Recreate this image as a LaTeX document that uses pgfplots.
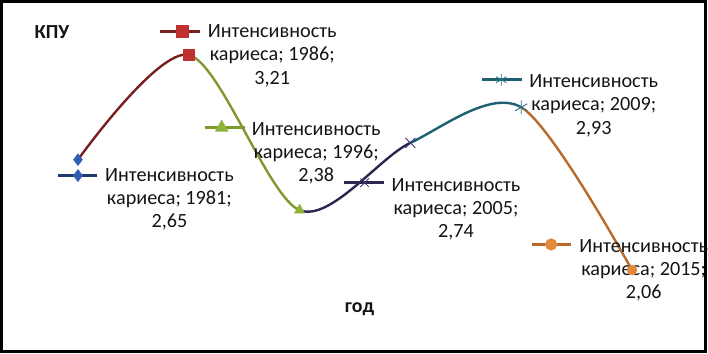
\documentclass[border=0pt]{standalone}
\usepackage{fontspec}
\setmainfont{Carlito}
\usepackage{pgfplots}
\pgfplotsset{compat=1.18}
\usepackage{pgfplotstable}

\definecolor{l81}{HTML}{1F3A6E}\definecolor{m81}{HTML}{2F5FB3}
\definecolor{l86}{HTML}{7A1F1F}\definecolor{m86}{HTML}{C0302E}
\definecolor{l96}{HTML}{7E9A2E}\definecolor{m96}{HTML}{8DB33A}
\definecolor{l05}{HTML}{2A2750}\definecolor{m05}{HTML}{3C3470}
\definecolor{l09}{HTML}{1E5F73}\definecolor{m09}{HTML}{2A7085}
\definecolor{l15}{HTML}{B86A2A}\definecolor{m15}{HTML}{E08A3A}
\definecolor{txt}{HTML}{141414}

\tikzset{lbl/.style={anchor=north west, align=center, inner sep=0pt, text=txt,
    font=\fontsize{20.3}{23.3}\selectfont}}

\pgfplotstableread{
x y
0 2.65
1 3.21
2 2.38
3 2.74
4 2.93
5 2.06
}\data

\begin{document}
\begin{tikzpicture}
\begin{axis}[
  scale only axis,
  x=111bp, y=187.5bp,
  xmin=-0.69, xmax=5.66, ymin=1.625, ymax=3.495,
  axis line style={line width=3bp, black},
  xtick=\empty, ytick=\empty,
  clip=false,
]
% curve segments, coloured by the series at their end
\begin{scope}
\clip (axis cs:0,1.7) rectangle (axis cs:1,3.45);
\addplot[l86, line width=2.4bp, smooth, tension=0.5, no markers] table[x=x,y=y] {\data};
\end{scope}
\begin{scope}
\clip (axis cs:1,1.7) rectangle (axis cs:2,3.45);
\addplot[l96, line width=2.4bp, smooth, tension=0.5, no markers] table[x=x,y=y] {\data};
\end{scope}
\begin{scope}
\clip (axis cs:2,1.7) rectangle (axis cs:3,3.45);
\addplot[l05, line width=2.4bp, smooth, tension=0.5, no markers] table[x=x,y=y] {\data};
\end{scope}
\begin{scope}
\clip (axis cs:3,1.7) rectangle (axis cs:4,3.45);
\addplot[l09, line width=2.4bp, smooth, tension=0.5, no markers] table[x=x,y=y] {\data};
\end{scope}
\begin{scope}
\clip (axis cs:4,1.7) rectangle (axis cs:5,3.45);
\addplot[l15, line width=2.4bp, smooth, tension=0.5, no markers] table[x=x,y=y] {\data};
\end{scope}

% data markers
\addplot[only marks, mark=diamond*, mark size=6bp, m81, mark options={draw=m81,fill=m81}] coordinates {(0,2.65)};
\addplot[only marks, mark=square*, mark size=5.5bp, m86, mark options={draw=m86,fill=m86}] coordinates {(1,3.21)};
\addplot[only marks, mark=triangle*, mark size=6bp, m96, mark options={draw=m96,fill=m96}] coordinates {(2,2.38)};
\addplot[only marks, mark=x, mark size=7bp, m05, mark options={line width=0.9bp}] coordinates {(3,2.74)};
\addplot[only marks, mark=asterisk, mark size=7bp, m09, mark options={line width=0.9bp}] coordinates {(4,2.93)};
\addplot[only marks, mark=*, mark size=5bp, m15, mark options={draw=m15,fill=m15}] coordinates {(5,2.06)};

% legend keys of the data labels
\addplot[l81, line width=3bp, mark=diamond*, mark size=4bp, mark indices={2}, mark options={draw=m81,fill=m81}] coordinates {(-0.18,2.565) (0,2.565) (0.171,2.565)};
\addplot[l86, line width=3bp, mark=square*, mark size=5bp, mark indices={2}, mark options={draw=m86,fill=m86}] coordinates {(0.739,3.333) (0.946,3.333) (1.099,3.333)};
\addplot[l96, line width=3bp, mark=triangle*, mark size=5bp, mark indices={2}, mark options={draw=m96,fill=m96}] coordinates {(1.144,2.821) (1.297,2.821) (1.505,2.821)};
\addplot[l05, line width=3bp, mark=x, mark size=6bp, mark indices={2}, mark options={m05,line width=0.8bp}] coordinates {(2.405,2.527) (2.586,2.527) (2.766,2.527)};
\addplot[l09, line width=3bp, mark=asterisk, mark size=6bp, mark indices={2}, mark options={m09,line width=0.8bp}] coordinates {(3.649,3.077) (3.820,3.077) (4.009,3.077)};
\addplot[l15, line width=3bp, mark=*, mark size=4.5bp, mark indices={2}, mark options={draw=m15,fill=m15}] coordinates {(4.099,2.197) (4.270,2.197) (4.450,2.197)};

% data labels
\node[lbl] at (axis cs:0.243,2.621) {\strut Интенсивность\\кариеса; 1981;\\2,65};
\node[lbl] at (axis cs:1.171,3.389) {\strut Интенсивность\\кариеса; 1986;\\3,21};
\node[lbl] at (axis cs:1.568,2.869) {\strut Интенсивность\\кариеса; 1996;\\2,38};
\node[lbl] at (axis cs:2.829,2.567) {\strut Интенсивность\\кариеса; 2005;\\2,74};
\node[lbl] at (axis cs:4.072,3.122) {\strut Интенсивность\\кариеса; 2009;\\2,93};
\node[lbl] at (axis cs:4.523,2.242) {\strut Интенсивность\\кариеса; 2015;\\2,06};

% axis titles
\node[font=\fontsize{20}{23}\selectfont\bfseries, text=txt] at (axis cs:-0.234,3.333) {КПУ};
\node[font=\fontsize{20}{23}\selectfont\bfseries, text=txt] at (axis cs:2.541,1.85) {год};
\end{axis}
\end{tikzpicture}
\end{document}
